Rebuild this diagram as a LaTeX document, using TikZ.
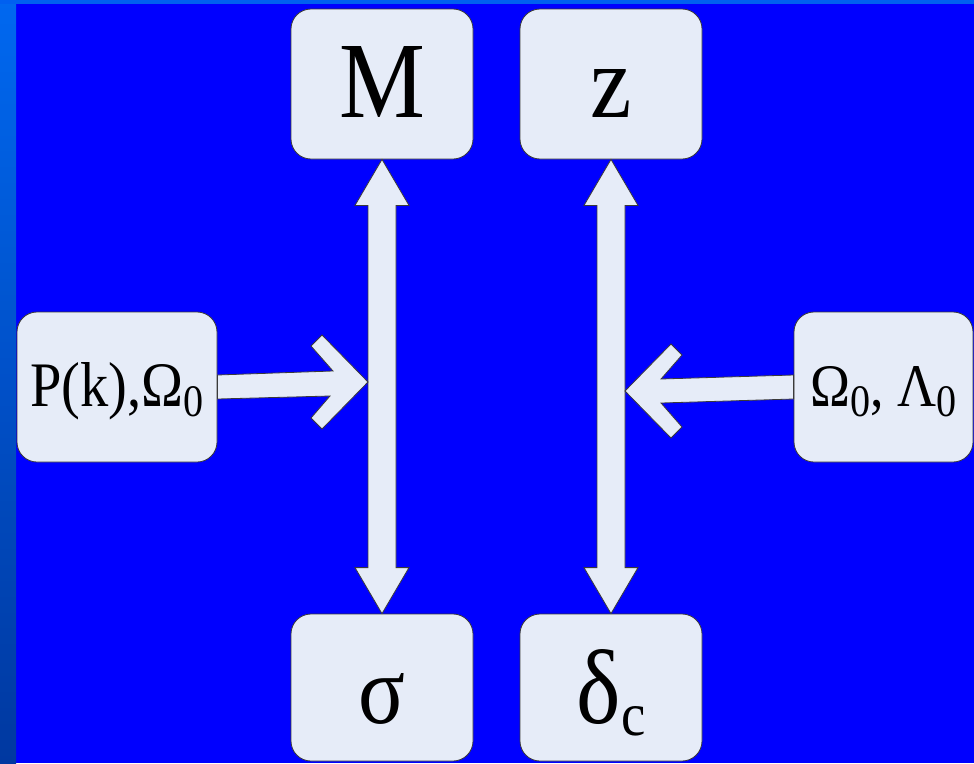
\documentclass[tikz,border=0pt]{standalone}
\usepackage{fontspec}
\usepackage{graphicx}
\setmainfont{Liberation Serif}
\usetikzlibrary{calc}
\definecolor{bgblue}{HTML}{0000FF}
\definecolor{stripA}{HTML}{0068F0}
\definecolor{stripB}{HTML}{0038A0}
\definecolor{topstrip}{HTML}{0060F0}
\definecolor{boxfill}{HTML}{E6ECF8}
\definecolor{boxline}{HTML}{3A3A3A}
% glyphs forced to a given height (pt), squeezed horizontally like the reference
\newcommand{\gl}[2]{\resizebox{!}{#1pt}{\scalebox{0.89}[1]{#2}}}
\newcommand{\lowsub}[3]{\raisebox{-#2pt}{\gl{#1}{#3}}}
\begin{document}
\begin{tikzpicture}[x=1pt,y=-1pt,
  box/.style={draw=boxline, fill=boxfill, rounded corners=20pt, line width=0.8pt,
    inner sep=0pt, text depth=0pt, minimum width=182pt, minimum height=150pt,
    font=\fontsize{100}{100}\selectfont},
  blockarrow/.style={draw=boxline, fill=boxfill, line width=0.8pt, line join=miter}]
  % background
  \fill[bgblue] (0,0) rectangle (974,763);
  \shade[top color=stripA, bottom color=stripB] (0,0) rectangle (16,763);
  \fill[topstrip] (0,0) rectangle (974,4);
  \useasboundingbox (0,0) rectangle (974,763);
  % boxes
  \node[box, text height=66pt] (M) at (382,84) {\gl{71}{M}};
  \node[box, text height=66pt] (z) at (611,84) {\gl{48}{z}};
  \node[box, text height=71pt, minimum height=147pt] (sigma) at (382,687.5) {\gl{50}{σ}};
  \node[box, text height=71pt, minimum height=147pt] (delta) at (611,687.5) {\gl{74}{δ}\lowsub{29}{12}{c}};
  \node[box, text height=38pt, minimum width=200pt] (P) at (117,387) {\gl{44}{P(k),Ω}\lowsub{30}{10}{0}};
  \node[box, text height=38pt, minimum width=179pt] (O) at (883.5,387) {\gl{40}{Ω}\lowsub{30}{10}{0}\gl{40}{,\ Λ}\lowsub{30}{10}{0}};
  % vertical double block arrows
  \draw[blockarrow] (M.south) -- ($(M.south)+(27,46)$) -- ($(M.south)+(14,46)$)
    -- ($(sigma.north)+(14,-46)$) -- ($(sigma.north)+(27,-46)$) -- (sigma.north)
    -- ($(sigma.north)+(-27,-46)$) -- ($(sigma.north)+(-14,-46)$)
    -- ($(M.south)+(-14,46)$) -- ($(M.south)+(-27,46)$) -- cycle;
  \draw[blockarrow] (z.south) -- ($(z.south)+(27,46)$) -- ($(z.south)+(14,46)$)
    -- ($(delta.north)+(14,-46)$) -- ($(delta.north)+(27,-46)$) -- (delta.north)
    -- ($(delta.north)+(-27,-46)$) -- ($(delta.north)+(-14,-46)$)
    -- ($(z.south)+(-14,46)$) -- ($(z.south)+(-27,46)$) -- cycle;
  % chevron arrows
  \coordinate (tL) at ($(M.south |- P.east)+(-14,-5)$);
  \coordinate (tR) at ($(z.south |- O.west)+(14,4)$);
  \draw[blockarrow] (tL) -- ($(tL)+(-46,-47)$) -- ($(tL)+(-57,-36)$) -- ($(tL)+(-35,-11)$)
    -- ($(P.east)+(0,-12)$) -- ($(P.east)+(0,12)$) -- ($(tL)+(-38,14)$)
    -- ($(tL)+(-57,36)$) -- ($(tL)+(-46,47)$) -- cycle;
  \draw[blockarrow] (tR) -- ($(tR)+(46,-47)$) -- ($(tR)+(57,-36)$) -- ($(tR)+(36,-12)$)
    -- ($(O.west)+(0,-12)$) -- ($(O.west)+(0,12)$) -- ($(tR)+(36,12)$)
    -- ($(tR)+(57,36)$) -- ($(tR)+(46,47)$) -- cycle;
\end{tikzpicture}
\end{document}
